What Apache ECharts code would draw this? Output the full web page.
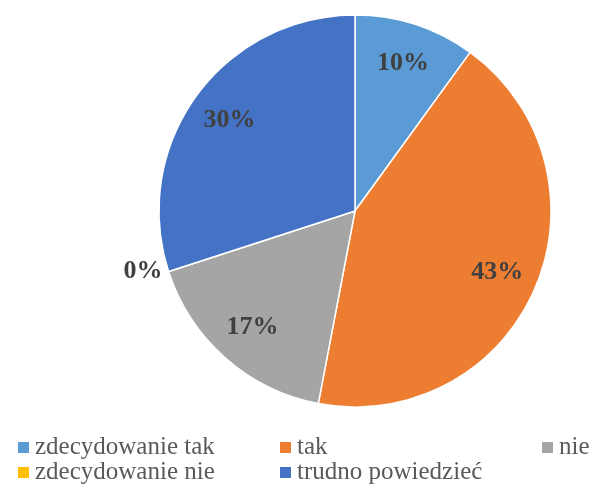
<!DOCTYPE html>
<html>
<head>
<meta charset="utf-8">
<script src="https://cdn.jsdelivr.net/npm/echarts@6/dist/echarts.min.js"></script>
<style>
  html, body { margin: 0; padding: 0; background: #fff; }
  #box1 { width: 594px; height: 489px; }
</style>
</head>
<body>
<div id="box1"></div>
<script>
// dane wykresu
var categories = ['zdecydowanie tak', 'tak', 'nie', 'zdecydowanie nie', 'trudno powiedzieć'];
var values = [10, 43, 17, 0, 30];
var colors = ['#5B9BD5', '#ED7D31', '#A5A5A5', '#FFC000', '#4472C4'];

var serif = 'Liberation Serif';
var cx = 355, cy = 211;
var R = 196;
var labelR = 155; // etykiety blizej krawedzi, jak w Excelu

var pieData = categories.map(function (name, i) {
  var item = { name: name, value: values[i], itemStyle: { color: colors[i] } };
  if (values[i] === 0) {
    item.label = { position: 'outside', distanceToLabelLine: 6, padding: [6, 0, 0, 0] };
    item.labelLine = { show: false, length: 0, length2: 0 };
  }
  return item;
});

// legenda: generyczny 'serif' (nazwa rodziny nie dzialala w legendzie)
var legendFont = { fontFamily: 'serif', fontSize: 25, color: '#595959', lineHeight: 29 };

var myChart = echarts.init(document.getElementById('box1'));
var option = {
  backgroundColor: '#fff',
  animation: false,
  legend: {
    left: 11,
    top: 430,
    width: 578,
    itemGap: 0,
    itemWidth: 13,
    itemHeight: 13,
    icon: 'rect',
    data: categories,
    formatter: function (name) {
      return name === categories[2] ? '{n|' + name + '}' : '{w|' + name + '}';
    },
    textStyle: {
      fontFamily: 'serif',
      fontSize: 25,
      color: '#595959',
      rich: {
        w: Object.assign({ width: 243 }, legendFont),
        n: legendFont
      }
    }
  },
  series: [
    {
      type: 'pie',
      center: [cx, cy],
      radius: [0, R],
      startAngle: 90,
      clockwise: true,
      avoidLabelOverlap: false,
      itemStyle: { borderColor: '#fff', borderWidth: 1.5 },
      emphasis: { disabled: true },
      label: {
        show: true,
        position: 'inside',
        formatter: '{c}%',
        fontFamily: serif,
        fontWeight: 'bold',
        fontSize: 26,
        color: '#404040'
      },
      labelLine: { show: false },
      labelLayout: function (params) {
        if (values[params.dataIndex] === 0) return {};
        var r = params.labelRect;
        var lx = r.x + r.width / 2, ly = r.y + r.height / 2;
        var d = Math.sqrt((lx - cx) * (lx - cx) + (ly - cy) * (ly - cy));
        if (!d) return {};
        return { x: cx + (lx - cx) * labelR / d, y: cy + (ly - cy) * labelR / d };
      },
      data: pieData
    }
  ]
};
myChart.setOption(option);
</script>
</body>
</html>
